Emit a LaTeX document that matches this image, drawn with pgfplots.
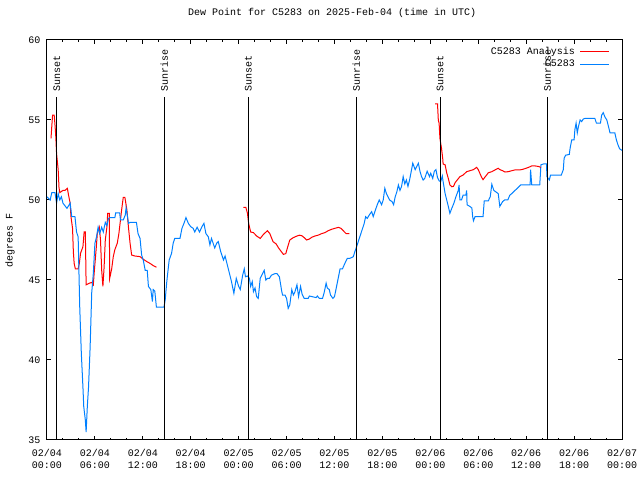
\documentclass[border=0pt]{standalone}
\usepackage{pgfplots}
\pgfplotsset{compat=1.18}
\usepackage{fontspec}
\setmainfont{Liberation Mono}
\definecolor{obsblue}{RGB}{0,128,255}
\definecolor{anared}{RGB}{255,0,0}
\begin{document}
\fontsize{10bp}{12bp}\selectfont
\begin{tikzpicture}[font=\fontsize{10bp}{12bp}\selectfont]
\begin{axis}[
 at={(0,0)}, anchor=south west,
 scale only axis, width=575bp, height=400bp,
 xmin=0, xmax=72, ymin=35, ymax=60,
 xtick={0,6,...,72},
 xticklabels={{02/04\\00:00},{02/04\\06:00},{02/04\\12:00},{02/04\\18:00},{02/05\\00:00},{02/05\\06:00},{02/05\\12:00},{02/05\\18:00},{02/06\\00:00},{02/06\\06:00},{02/06\\12:00},{02/06\\18:00},{02/07\\00:00}},
 minor x tick num=2,
 ytick={35,40,...,60},
 /pgf/number format/assume math mode=true,
 tick align=inside,
 major tick length=4bp, minor tick length=2bp,
 tick style={black, line width=1bp},
 axis line style={line width=1bp},
 xticklabel style={align=center, yshift=-6bp},
 yticklabel style={xshift=-3bp},
 title={Dew Point for C5283 on 2025-Feb-04 (time in UTC)},
 title style={at={(axis description cs:0.496,1)}, anchor=center, yshift=21bp},
 ylabel={degrees F},
 ylabel style={at={(axis description cs:-0.0643,0.5)}, anchor=center},
 legend style={at={(axis description cs:1,1)}, anchor=north east, xshift=-9bp, yshift=-3bp, draw=none, fill=none, row sep=0bp, column sep=3bp},
 legend cell align=right,
 legend plot pos=right,
 legend image code/.code={\draw[#1] (0bp,0bp) -- (29bp,0bp);},
]
% Analysis, segment 1
\addplot[anared, line width=1bp] coordinates {
(0.5,53.85) (0.6,54.6) (0.7,55.3) (0.9,55.3) (1.0,54.7) (1.1,53.96) (1.2,52.9) (1.4,51.9) (1.5,50.8) (1.6,50.46)
(2.0,50.6) (2.25,50.6) (2.55,50.73) (2.7,50.3) (2.9,49.8) (3.0,48.96) (3.2,48.23) (3.3,46.77) (3.4,46.04) (3.55,45.7)
(3.9,45.7) (4.05,46.04) (4.2,46.67) (4.5,47.08) (4.65,48.0) (4.8,48.0) (4.9,44.7) (5.3,44.8) (5.6,44.85) (5.8,44.7)
(5.9,45.4) (6.15,46.9) (6.3,47.9) (6.55,48.3) (6.7,47.5) (6.85,45.6) (7.0,44.6) (7.15,45.8) (7.3,47.5) (7.5,48.3)
(7.6,49.17) (7.8,49.17) (7.85,45.1) (8.1,45.7) (8.3,46.46) (8.5,46.9) (8.8,47.3) (9.0,47.9) (9.15,48.54) (9.35,49.4)
(9.55,50.17) (9.75,50.17) (10.0,49.4) (10.2,48.3) (10.4,47.3) (10.6,46.56) (11.0,46.5) (11.65,46.46) (12.05,46.3)
(12.5,46.15) (12.9,46.04) (13.3,45.9) (13.7,45.8)
};
\addlegendentry{C5283 Analysis}
% Observations
\addplot[obsblue, line width=1bp] coordinates {
(0.0,50.2) (0.4,50.0) (0.6,50.46) (1.0,50.46) (1.2,49.8) (1.4,50.4) (1.6,50.0) (1.8,50.2) (2.0,49.8) (2.5,49.48)
(2.9,49.8) (3.1,48.96) (3.5,48.96) (3.7,48.0) (3.9,47.7) (4.1,43.3) (4.3,40.4) (4.5,38.3) (4.6,37.1) (4.8,36.25)
(4.9,35.5) (5.05,37.1) (5.2,38.3) (5.4,40.8) (5.6,44.2) (5.8,45.4) (6.0,47.3) (6.2,47.7) (6.4,48.3) (6.6,47.9)
(6.85,48.3) (7.05,48.0) (7.3,48.6) (7.5,48.4) (7.7,48.85) (7.9,48.9) (8.5,48.9) (8.6,49.2) (9.1,49.2) (9.2,48.75)
(9.55,48.75) (9.8,49.06) (9.9,49.5) (10.05,49.06) (10.2,48.54) (10.4,48.6) (11.2,48.6) (11.4,47.9) (11.65,47.6)
(11.85,46.56) (12.05,46.25) (12.3,45.6) (12.55,45.6) (12.7,44.6) (13.0,44.4) (13.2,43.65) (13.3,44.4) (13.5,44.3)
(13.7,43.3) (14.65,43.3) (14.8,43.75) (15.0,44.9) (15.3,46.25) (15.6,46.67) (15.8,47.3) (16.0,47.6) (16.65,47.6)
(16.9,48.23) (17.15,48.54) (17.4,48.9) (17.7,48.54) (18.0,48.33) (18.3,48.23) (18.5,48.0) (18.8,48.3) (19.1,48.0)
(19.4,48.33) (19.65,48.54) (19.9,47.9) (20.2,47.7) (20.4,47.2) (20.6,47.6) (20.8,47.3) (21.0,47.0) (21.25,47.3)
(21.45,47.4) (21.75,46.77) (22.1,46.25) (22.3,46.5) (22.5,46.1) (22.8,45.5) (23.1,44.9) (23.4,44.17) (23.7,45.1)
(24.0,44.6) (24.2,44.4) (24.5,45.3) (24.7,45.7) (24.85,45.2) (25.1,45.25) (25.35,45.1) (25.5,44.6) (25.7,44.9)
(25.85,44.27) (26.05,44.5) (26.25,43.96) (26.45,43.85) (26.7,45.1) (26.9,45.3) (27.2,45.6) (27.4,45.0) (27.6,45.1)
(27.85,45.1) (28.1,45.3) (28.55,45.4) (28.8,45.4) (29.1,45.2) (29.4,44.27) (29.5,44.06) (29.8,44.06) (30.0,43.85)
(30.2,43.23) (30.4,43.44) (30.65,44.4) (30.85,44.06) (31.05,44.27) (31.3,44.7) (31.5,43.96) (31.75,44.6) (31.95,44.1)
(32.2,43.85) (32.7,43.85) (32.85,44.0) (33.7,43.9) (33.85,44.0) (34.1,43.85) (34.5,43.85) (34.7,44.2) (34.95,44.8)
(35.1,44.5) (35.35,44.4) (35.5,44.06) (35.8,43.85) (36.0,43.96) (36.3,44.7) (36.5,45.2) (36.7,45.7) (37.0,45.7)
(37.3,46.04) (37.6,46.35) (37.9,46.35) (38.35,46.45) (38.55,46.77) (38.85,47.2) (39.1,47.6) (39.4,48.05) (39.7,48.5)
(39.9,48.96) (40.1,48.85) (40.35,49.06) (40.65,49.27) (40.85,48.96) (41.05,49.27) (41.35,49.7) (41.6,50.0) (41.9,49.7)
(42.1,50.0) (42.3,50.73) (42.5,50.4) (42.9,50.0) (43.2,49.9) (43.4,49.7) (43.6,50.2) (43.8,50.5) (44.0,50.94)
(44.2,50.6) (44.4,50.85) (44.6,51.46) (44.8,51.0) (45.0,51.25) (45.2,50.85) (45.4,51.25) (45.65,51.9) (45.8,52.3)
(46.1,51.9) (46.3,52.1) (46.5,52.3) (46.7,51.8) (46.9,51.46) (47.1,51.25) (47.3,51.35) (47.6,51.8) (47.9,51.46)
(48.05,51.67) (48.3,51.35) (48.5,51.8) (48.7,51.9) (48.9,51.4) (49.1,51.2) (49.3,51.15) (49.5,51.5) (49.6,51.15)
(49.85,50.4) (50.05,50.0) (50.25,49.6) (50.45,49.17) (50.7,49.5) (50.95,49.8) (51.2,50.2) (51.5,50.6) (51.6,50.94)
(51.7,50.0) (51.9,50.0) (52.1,50.3) (52.45,50.3) (52.55,50.6) (52.6,49.7) (52.95,49.6) (53.2,49.5) (53.3,48.96)
(53.4,48.7) (53.6,48.96) (54.6,48.96) (54.75,49.94) (55.25,49.94) (55.5,50.2) (55.7,50.98) (55.95,50.6) (56.5,50.4)
(56.7,49.6) (57.05,49.9) (57.3,50.0) (57.7,50.0) (57.95,50.3) (58.2,50.4) (58.6,50.6) (58.9,50.73) (59.3,50.94)
(60.5,50.94) (60.55,51.9) (60.7,50.94) (61.7,50.94) (61.85,52.2) (62.15,52.25) (62.55,52.25) (62.6,51.46) (62.9,51.25)
(63.05,51.56) (64.4,51.56) (64.65,51.9) (64.75,52.6) (64.95,52.8) (65.4,52.85) (65.5,53.23) (65.7,53.75) (66.0,53.75)
(66.1,54.4) (66.25,54.8) (66.4,54.2) (66.55,54.6) (66.75,55.0) (66.95,54.9) (67.15,55.06) (67.35,55.1) (68.6,55.1)
(68.8,54.8) (69.3,54.8) (69.45,55.3) (69.65,55.46) (69.85,55.2) (70.1,55.0) (70.3,54.6) (70.5,54.2) (71.1,54.2)
(71.3,53.75) (71.5,53.44) (71.7,53.2) (72.0,53.1)
};
\addlegendentry{C5283}
% Analysis, segment 2
\addplot[anared, line width=1bp, forget plot] coordinates {
(24.6,49.54) (24.9,49.54) (25.1,49.17) (25.25,48.54) (25.5,48.0) (25.85,47.96) (26.25,47.75) (26.7,47.6) (27.1,47.85)
(27.6,48.08) (27.9,47.9) (28.3,47.4) (28.7,47.25) (29.0,47.0) (29.3,46.8) (29.6,46.6) (29.9,46.65) (30.1,47.0)
(30.4,47.5) (30.85,47.65) (31.3,47.75) (31.6,47.8) (31.9,47.77) (32.2,47.65) (32.5,47.5) (32.85,47.56) (33.15,47.67)
(33.55,47.75) (33.95,47.8) (34.4,47.9) (34.8,47.96) (35.2,48.08) (35.65,48.17) (36.05,48.23) (36.5,48.29) (36.8,48.23)
(37.1,48.08) (37.45,47.9) (37.85,47.9)
};
% Analysis, segment 3
\addplot[anared, line width=1bp, forget plot] coordinates {
(48.6,56.0) (48.9,56.0) (49.0,55.0) (49.1,54.8) (49.2,53.85) (49.4,53.23) (49.55,52.6) (49.6,52.25) (49.85,52.2)
(50.05,51.7) (50.25,51.35) (50.45,50.94) (50.7,50.83) (50.9,50.85) (51.1,51.08) (51.4,51.27) (51.7,51.46) (52.1,51.56)
(52.55,51.77) (52.95,51.83) (53.4,51.9) (53.8,52.04) (54.0,51.9) (54.2,51.67) (54.4,51.44) (54.6,51.27) (54.85,51.44)
(55.05,51.56) (55.25,51.7) (55.7,51.77) (56.1,51.88) (56.5,51.98) (56.7,51.9) (57.05,51.83) (57.35,51.75) (57.75,51.77)
(58.2,51.83) (58.6,51.88) (59.15,51.88) (59.45,51.9) (59.85,51.96) (60.3,52.04) (60.7,52.13) (61.1,52.13) (61.5,52.1)
(61.85,52.04)
};
% Sunrise / sunset markers
\addplot[black, line width=1bp, forget plot] coordinates {(1.22,35) (1.22,56.45)};
\addplot[black, line width=1bp, forget plot] coordinates {(14.7,35) (14.7,56.45)};
\addplot[black, line width=1bp, forget plot] coordinates {(25.22,35) (25.22,56.45)};
\addplot[black, line width=1bp, forget plot] coordinates {(38.74,35) (38.74,56.45)};
\addplot[black, line width=1bp, forget plot] coordinates {(49.22,35) (49.22,56.45)};
\addplot[black, line width=1bp, forget plot] coordinates {(62.66,35) (62.66,56.45)};
\node[rotate=90, anchor=west, inner sep=0pt] at (axis cs:1.22,56.75) {Sunset};
\node[rotate=90, anchor=west, inner sep=0pt] at (axis cs:14.7,56.75) {Sunrise};
\node[rotate=90, anchor=west, inner sep=0pt] at (axis cs:25.22,56.75) {Sunset};
\node[rotate=90, anchor=west, inner sep=0pt] at (axis cs:38.74,56.75) {Sunrise};
\node[rotate=90, anchor=west, inner sep=0pt] at (axis cs:49.22,56.75) {Sunset};
\node[rotate=90, anchor=west, inner sep=0pt] at (axis cs:62.66,56.75) {Sunrise};
\end{axis}
\pgfresetboundingbox
\useasboundingbox (-47bp,-40bp) rectangle (593bp,440bp);
\end{tikzpicture}
\end{document}
